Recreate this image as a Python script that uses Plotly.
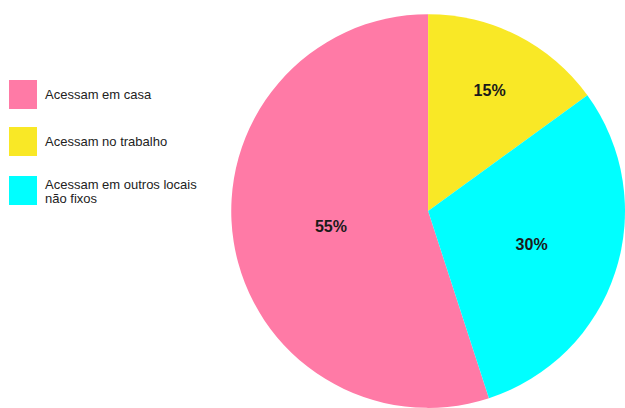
import plotly.graph_objects as go

# Where people access from (share of respondents, %)
labels = ["Acessam em casa", "Acessam no trabalho", "Acessam em outros locais<br>não fixos"]
values = [55, 15, 30]
colors = ["#FF7AA6", "#F9E826", "#00FFFF"]

W, H = 625, 408

fig = go.Figure()
fig.add_trace(go.Pie(
    labels=labels,
    values=values,
    marker=dict(colors=colors, line=dict(width=0)),
    sort=False,
    direction="clockwise",
    rotation=162,
    textinfo="percent",
    texttemplate="<b>%{value}%</b>",
    textposition="inside",
    insidetextorientation="horizontal",
    textfont=dict(family="Liberation Sans, Arial, sans-serif", size=16, color="#1a1a1a"),
    domain=dict(x=[0.37, 1.0], y=[0.0, 394 / H]),
    showlegend=False,
    hoverinfo="label+percent",
))

# Legend drawn as swatches + labels on the left (tight line spacing for wrapped labels)
legend_top = [80, 127, 176]
line_gap = 14
shapes, annotations = [], []
for lab, col, top in zip(labels, colors, legend_top):
    shapes.append(dict(
        type="rect", xref="paper", yref="paper",
        x0=9 / W, x1=37 / W, y0=1 - (top + 29) / H, y1=1 - top / H,
        fillcolor=col, line=dict(width=0), layer="above",
    ))
    lines = lab.split("<br>")
    first = top + 5 if len(lines) == 1 else top - 1
    for i, txt in enumerate(lines):
        annotations.append(dict(
            xref="paper", yref="paper", x=43 / W, y=1 - (first + i * line_gap) / H,
            xanchor="left", yanchor="top", align="left", showarrow=False,
            text=txt,
            font=dict(family="Liberation Sans, Arial, sans-serif", size=13, color="#222222"),
        ))

fig.update_layout(
    width=W, height=H,
    margin=dict(l=0, r=0, t=0, b=0),
    paper_bgcolor="white",
    plot_bgcolor="white",
    shapes=shapes,
    annotations=annotations,
)

fig.write_html("out.html")
